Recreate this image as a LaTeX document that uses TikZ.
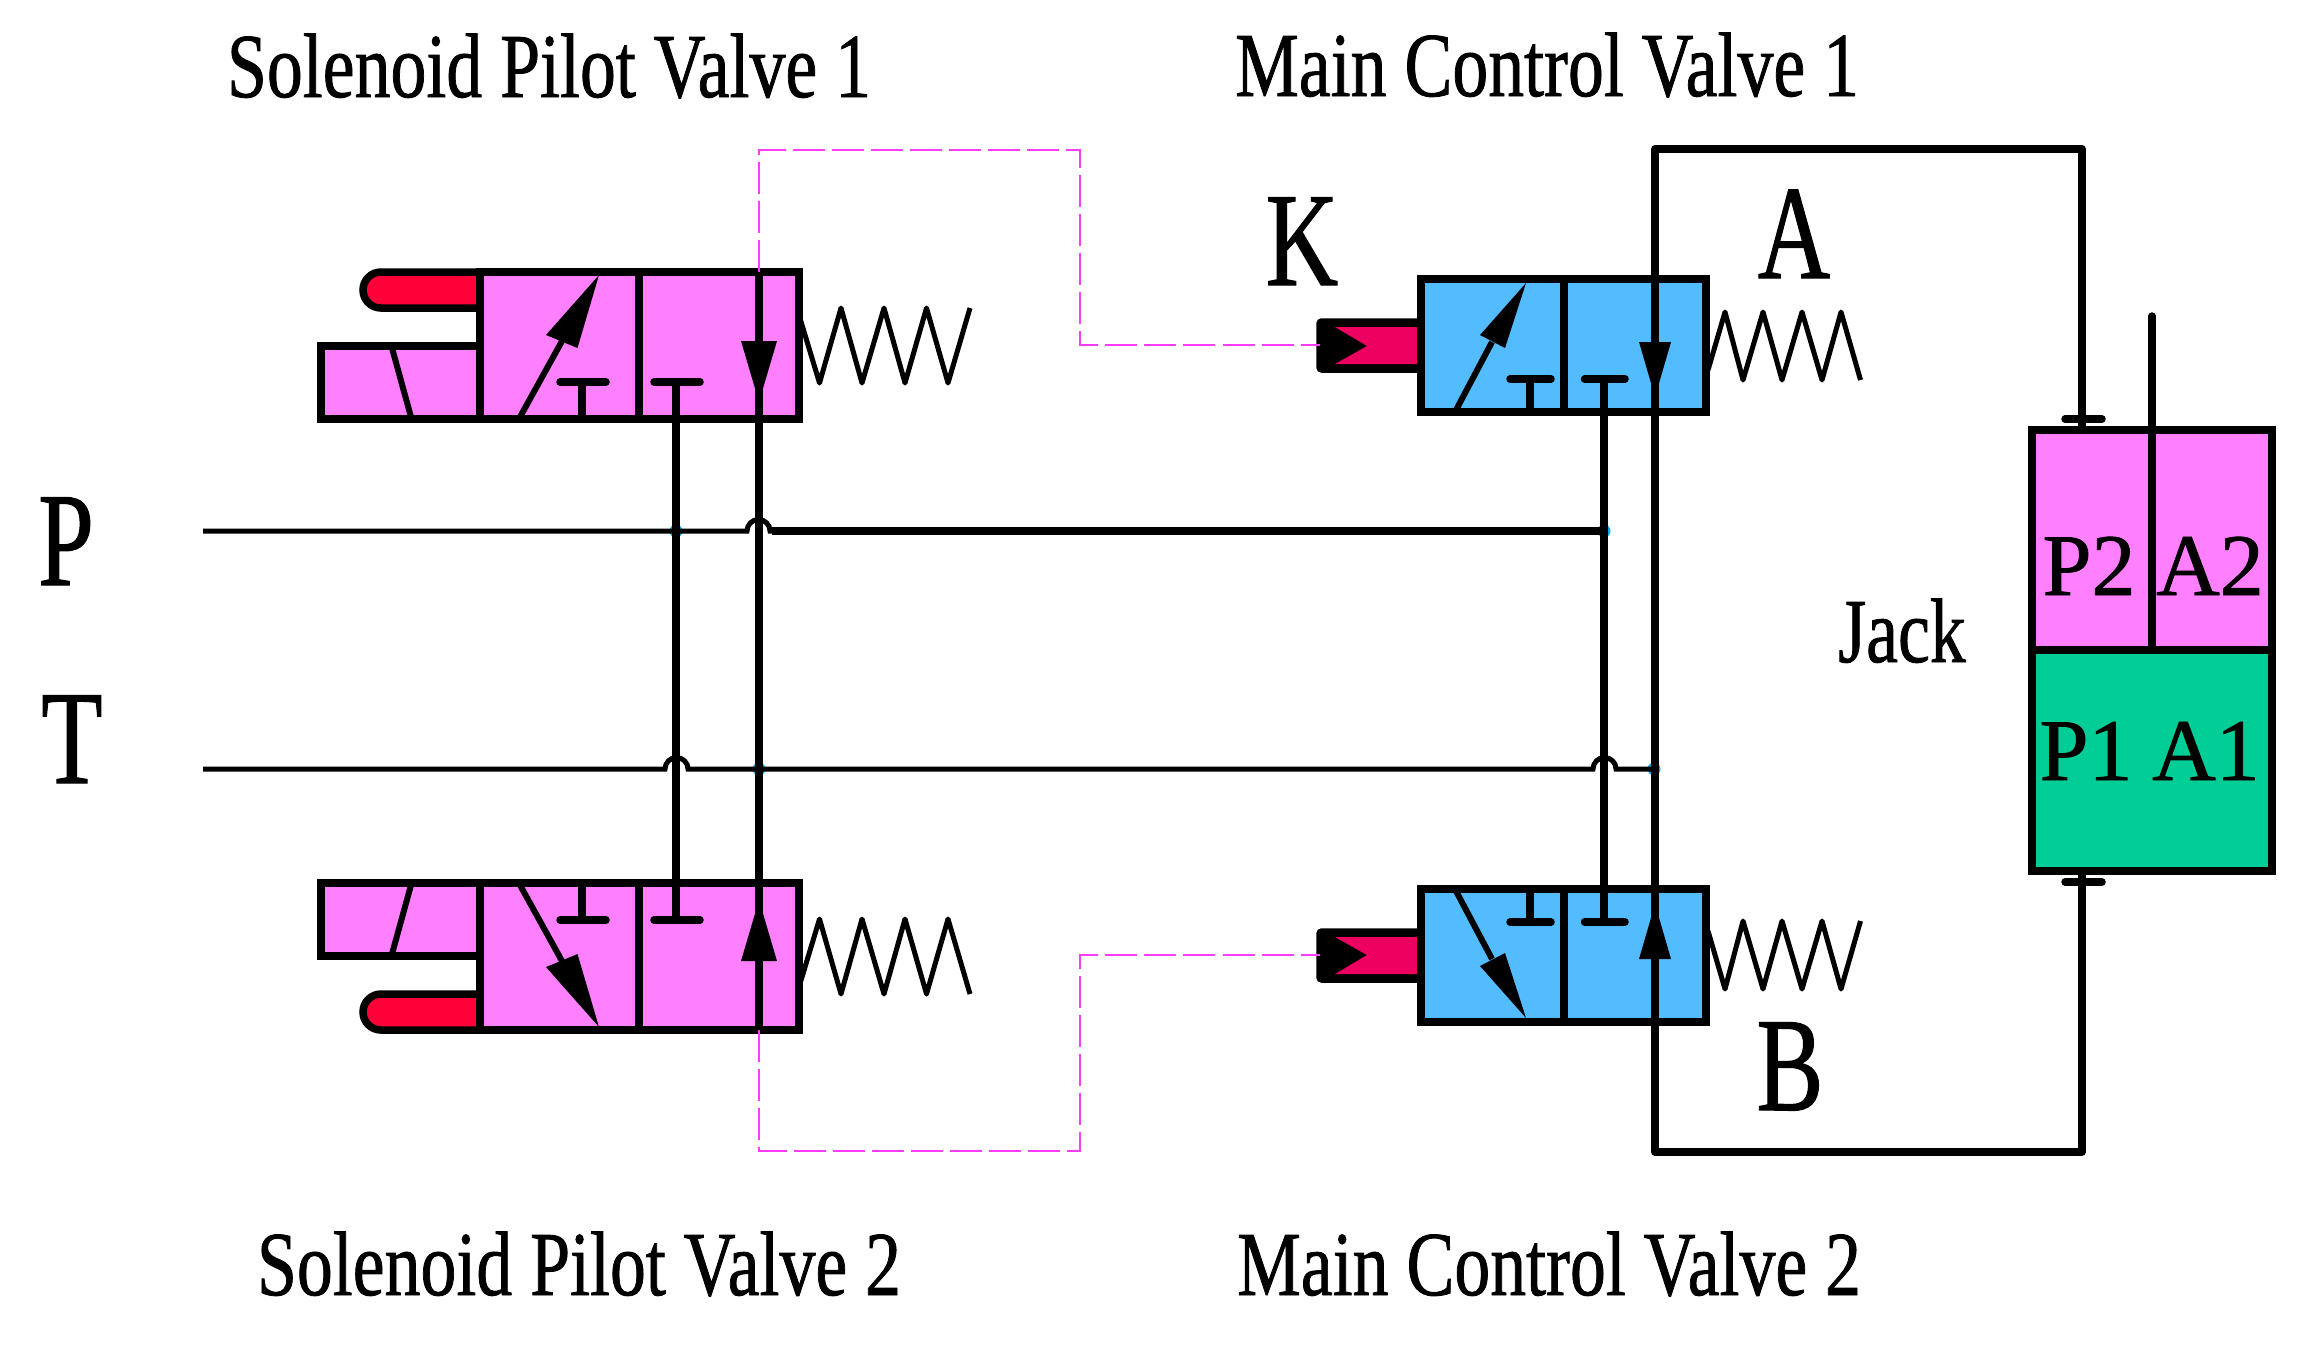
\documentclass[tikz,border=0pt]{standalone}
\usepackage{fontspec}
\setmainfont[FakeBold=1]{Liberation Serif}
\definecolor{pilotpink}{HTML}{FF80FF}
\definecolor{mainblue}{HTML}{52BCFF}
\definecolor{coilred}{HTML}{FF0038}
\definecolor{headred}{HTML}{EE0060}
\definecolor{jackgreen}{HTML}{00CE96}
\definecolor{dashpink}{HTML}{FF3CFF}
\tikzset{
    wire/.style={line width=0.075cm},
    thinwire/.style={line width=0.05cm},
    slantwire/.style={line width=0.06cm},
    spring/.style={line width=0.05cm, line join=round},
    pilotline/.style={line width=0.025cm, color=dashpink, dash pattern=on 0.32cm off 0.07cm},
    barline/.style={line width=0.075cm, line cap=round},
    title/.style={font=\fontsize{26}{26}\selectfont, anchor=base, xscale=0.785, transform shape},
    port/.style={font=\fontsize{38}{38}\selectfont, anchor=base, xscale=0.75, transform shape},
    inlabel/.style={font=\fontsize{25}{25}\selectfont, anchor=base, xscale=1, transform shape}
}
% one pilot valve, drawn for the upper position
\newcommand{\pilotvalve}{
    \draw[wire, fill=coilred] (480,308) -- (381,308) arc (90:270:18) -- (480,272);
    \draw[wire, fill=pilotpink] (480,346) -- (321,346) -- (321,419) -- (480,419);
    \draw[slantwire] (392,348) -- (411,417);
    \draw[wire, fill=pilotpink] (480,272) rectangle (799,419);
    \draw[wire] (639,272) -- (639,419);
    \draw[slantwire] (520,417) -- (562,341);
    \fill (599,275) -- (546,335) -- (577.5,348) -- cycle;
    \draw[wire] (582,419) -- (582,382);
    \draw[barline] (560,382) -- (606,382);
    \draw[barline] (654,382) -- (700,382);
    \fill (741,341) -- (777,341) -- (759,402) -- cycle;
    \draw[spring] (799,315) -- (819.5,383) -- (841,308) -- (862,383) -- (884,308) -- (905,383) -- (926.5,308) -- (948,383) -- (970,308);
}
% one main valve, drawn for the upper position
\newcommand{\mainvalve}{
    \draw[wire, fill=black, rounded corners=0.02cm] (1421,322) -- (1320,322) -- (1320,369) -- (1421,369);
    \fill[headred] (1335,327) -- (1421,327) -- (1421,364) -- (1335,364) -- (1367,346) -- cycle;
    \draw[wire, fill=mainblue] (1421,279) rectangle (1706,412);
    \draw[wire] (1564,279) -- (1564,412);
    \draw[slantwire] (1456,410) -- (1492,342);
    \fill (1526,283) -- (1480,335) -- (1505,348) -- cycle;
    \draw[wire] (1530,412) -- (1530,379);
    \draw[barline] (1510,379) -- (1551,379);
    \draw[barline] (1584.5,379) -- (1625,379);
    \fill (1639,342) -- (1671,342) -- (1655,397) -- cycle;
    \draw[spring] (1708,370) -- (1725,312) -- (1743,380) -- (1763,312) -- (1782,380) -- (1802,312) -- (1822,380) -- (1841,312) -- (1860.5,380);
}

\begin{document}
\begin{tikzpicture}[x=0.01cm, y=-0.01cm]
    \useasboundingbox (0,0) rectangle (2304,1363);
    % P and T lines
    \coordinate (pstart) at (203,531);
    \coordinate (tstart) at (203,769);
    \coordinate (pdot1) at (676,531);
    \coordinate (tdot1) at (759,769);
    \coordinate (pdot2) at (1604,531);
    \coordinate (tdot2) at (1654,769);
    \foreach \dotname in {pdot1,tdot1,pdot2,tdot2}
        \fill[cyan] (\dotname) circle (6.5);
    \draw[thinwire] (pstart) -- (747,531) arc (180:360:11.5) -- +(3,0);
    \draw[wire] (772,531) -- (pdot2);
    \draw[thinwire] (tstart) -- (665,769) arc (180:360:11.5) -- (1593,769) arc (180:360:11.5) -- (tdot2);
    % valves
    \pilotvalve
    \begin{scope}[shift={(0,1302)}, yscale=-1]
        \pilotvalve
    \end{scope}
    \mainvalve
    \begin{scope}[shift={(0,1301)}, yscale=-1]
        \mainvalve
    \end{scope}
    % vertical lines
    \draw[wire] (676,382) -- (676,920);
    \draw[wire] (759,272) -- (759,1030);
    \draw[wire] (1604,379) -- (1604,922);
    % jack
    \draw[wire, fill=pilotpink] (2032,430) rectangle (2272,650);
    \draw[wire, fill=jackgreen] (2032,650) rectangle (2272,871);
    \draw[wire, line cap=round] (2152,316) -- (2152,650);
    \coordinate (jacktop) at (2082,430);
    \coordinate (jackbot) at (2082,871);
    \draw[wire, line join=round] (jacktop) -- (2082,149) -- (1655,149) -- (1655,1152) -- (2082,1152) -- (jackbot);
    \draw[barline] (2065,419) -- (2102,419);
    \draw[barline] (2065,882) -- (2102,882);
    % pilot lines
    \draw[pilotline] (759,272) -- (759,150) -- (1080,150) -- (1080,345) -- (1320,345);
    \draw[pilotline] (759,1030) -- (759,1151) -- (1080,1151) -- (1080,955) -- (1320,955);
    % texts
    \node[title] (pv1) at (549,97) {Solenoid Pilot Valve 1};
    \node[title] (pv2) at (579,1295) {Solenoid Pilot Valve 2};
    \node[title] (mv1) at (1547,96) {Main Control Valve 1};
    \node[title] (mv2) at (1549,1295) {Main Control Valve 2};
    \node[port] (labk) at (1302,285) {K};
    \node[port] (laba) at (1794,278) {A};
    \node[port] (labb) at (1790,1110) {B};
    \node[port] (labp) at (66,585) {P};
    \node[port] (labt) at (72,783) {T};
    \node[title] (jack) at (1902,662) {Jack};
    \node[inlabel] (p2) at (2089,595) {P2};
    \node[inlabel] (a2) at (2210,595) {A2};
    \node[inlabel] (p1) at (2086,780) {P1};
    \node[inlabel] (a1) at (2206,780) {A1};
\end{tikzpicture}
\end{document}
